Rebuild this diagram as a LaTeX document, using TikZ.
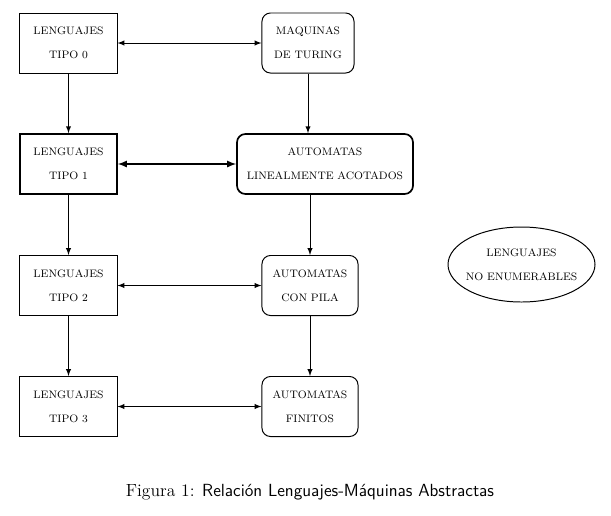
\documentclass[tikz,border=0pt]{standalone}
\usepackage{amsmath}
\usepackage{xcolor}
\usepackage{tikz}
\usetikzlibrary{shapes.geometric}
\usetikzlibrary{arrows}
\usetikzlibrary{shapes}

\tikzset{
        lenguaje/.style = {draw, line width = 0.7pt, minimum width = 2.425cm,
            minimum height = 1.5cm, align = center,
            font = \fontsize{7.7}{17}\selectfont},
        maquina/.style = {lenguaje, rounded corners = 6pt, minimum width = 2.3cm},
        flecha/.style = {line width = 0.7pt, >=latex}
}

\begin{document}
\begin{tikzpicture}[x = 0.025cm, y = -0.025cm]
        \useasboundingbox (0, 0) rectangle (611, 515);

        \node [lenguaje] (tipo0) at (68.5, 43) {LENGUAJES\\TIPO 0};
        \node [lenguaje, line width = 1.2pt] (tipo1) at (68.5, 164) {LENGUAJES\\TIPO 1};
        \node [lenguaje] (tipo2) at (68.5, 285.5) {LENGUAJES\\TIPO 2};
        \node [lenguaje] (tipo3) at (68.5, 406.5) {LENGUAJES\\TIPO 3};

        \node [maquina] (turing) at (308, 43) {MAQUINAS\\DE TURING};
        \node [maquina, line width = 1.2pt, minimum width = 4.4cm] (acotados) at (325, 164)
            {AUTOMATAS\\LINEALMENTE ACOTADOS};
        \node [maquina, minimum width = 2.4cm] (pila) at (310, 285.5) {AUTOMATAS\\CON PILA};
        \node [maquina, minimum width = 2.4cm] (finitos) at (310, 406.5) {AUTOMATAS\\FINITOS};

        \node [align = center, font = \fontsize{7.7}{17}\selectfont] (noenum) at (521.5, 264.5)
            {LENGUAJES\\NO ENUMERABLES};
        \draw [line width = 0.7pt] (noenum.center) ellipse (73.5 and 37.5);

        \node (caption) at (310, 492) {\fontsize{12.5}{14}\selectfont
            \textrm{Figura 1:} \textsf{Relación Lenguajes-Máquinas Abstractas}};

        \draw [flecha, ->] (tipo0) -- (tipo1);
        \draw [flecha, ->] (tipo1) -- (tipo2);
        \draw [flecha, ->] (tipo2) -- (tipo3);

        \draw [flecha, ->] (turing.south) -- (turing.south |- acotados.north);
        \draw [flecha, ->] (pila.north |- acotados.south) -- (pila.north);
        \draw [flecha, ->] (pila) -- (finitos);

        \draw [flecha, <->] (tipo0) -- (turing);
        \draw [flecha, <->, line width = 1.2pt] (tipo1) -- (acotados);
        \draw [flecha, <->] (tipo2) -- (pila);
        \draw [flecha, <->] (tipo3) -- (finitos);
\end{tikzpicture}
\end{document}
